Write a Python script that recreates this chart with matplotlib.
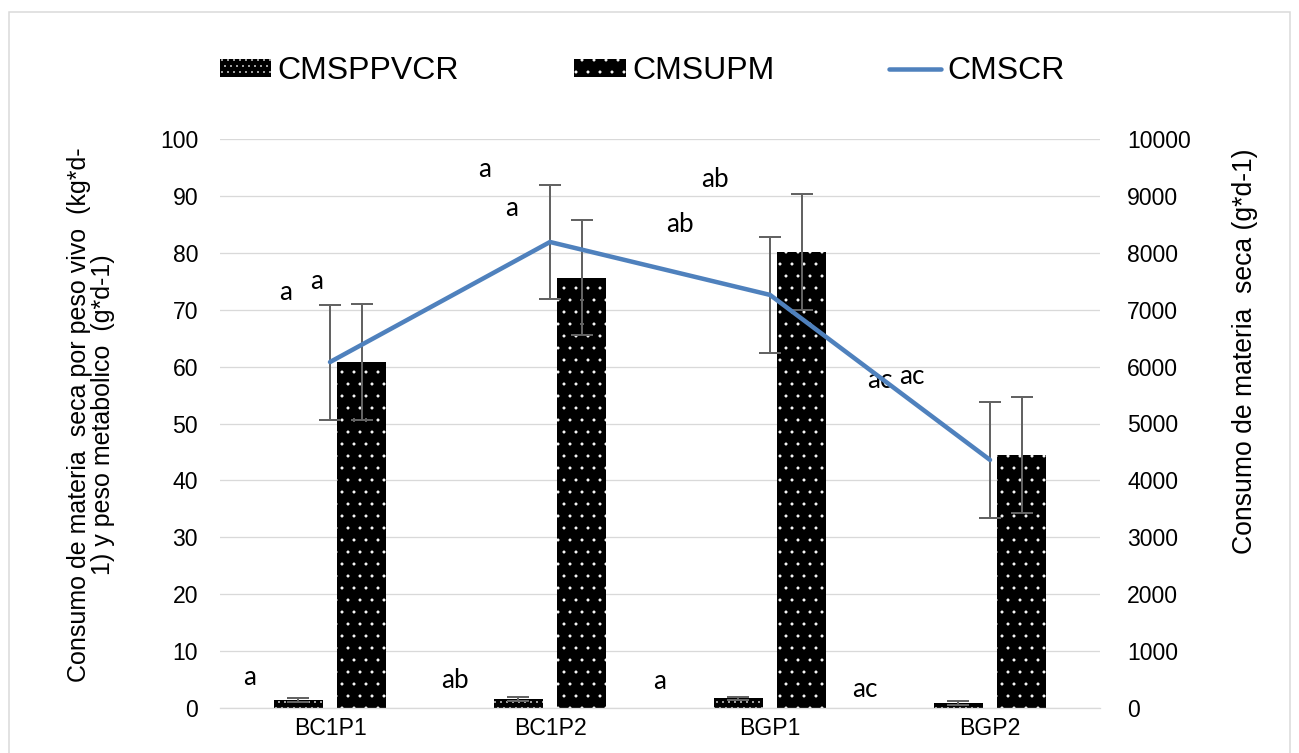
import matplotlib
matplotlib.use('Agg')
import matplotlib.pyplot as plt
import numpy as np

# datos
categorias = ['BC1P1', 'BC1P2', 'BGP1', 'BGP2']
cmsppvcr = [1.4, 1.6, 1.7, 0.9]          # eje izquierdo
cmsppvcr_err = [0.3, 0.3, 0.3, 0.3]
cmsupm = [60.8, 75.6, 80.2, 44.5]        # eje izquierdo
cmsupm_err = [10.2, 10.1, 10.2, 10.15]
cmscr = [6080, 8190, 7260, 4360]         # eje derecho
cmscr_err = [1010, 1000, 1020, 1015]

# letras de significancia (texto, x en categorias, y en eje izquierdo)
letras = ['a', 'a', 'a', 'a', 'ab', 'ab', 'ac', 'ac', 'a', 'ab', 'a', 'ac']
letras_x = [-0.2, -0.059, 0.705, 0.827, 1.59, 1.75, 2.5, 2.645, -0.364, 0.568, 1.5, 2.43]
letras_y = [73.1, 75.0, 94.6, 87.7, 84.9, 92.8, 57.5, 58.3, 5.4, 4.9, 4.6, 3.2]

plt.rcParams['font.family'] = ['Liberation Sans', 'DejaVu Sans']
plt.rcParams['hatch.color'] = 'white'
plt.rcParams['hatch.linewidth'] = 0.5

DPI = 72
fig = plt.figure(figsize=(1299 / DPI, 753 / DPI), dpi=DPI)
ax = fig.add_axes([220 / 1299, 1 - 708 / 753, 880 / 1299, 569 / 753])
ax2 = ax.twinx()

x = np.arange(len(categorias))
ancho = 0.224
desp = 0.144
gris = '#636363'

b1 = ax.bar(x - desp, cmsppvcr, ancho, color='black', edgecolor='white',
            linewidth=0, hatch='..', label='CMSPPVCR', zorder=2)
b2 = ax.bar(x + desp, cmsupm, ancho, color='black', edgecolor='white',
            linewidth=0, hatch='.', label='CMSUPM', zorder=2)
ax.errorbar(x - desp, cmsppvcr, yerr=cmsppvcr_err, fmt='none', ecolor=gris,
            elinewidth=2, capsize=11, capthick=2, zorder=3)
ax.errorbar(x + desp, cmsupm, yerr=cmsupm_err, fmt='none', ecolor=gris,
            elinewidth=2, capsize=11, capthick=2, zorder=3)

ax2.errorbar(x, cmscr, yerr=cmscr_err, fmt='none', ecolor=gris,
             elinewidth=2, capsize=11, capthick=2, zorder=2)
ln, = ax2.plot(x, cmscr, color='#4f81bd', lw=4.5, solid_capstyle='round',
               label='CMSCR', zorder=3)

ax.set_xlim(-0.5, 3.5)
ax.set_ylim(0, 100)
ax2.set_ylim(0, 10000)
ax.set_yticks(np.arange(0, 101, 10))
ax2.set_yticks(np.arange(0, 10001, 1000))
ax.set_xticks(x)
ax.set_xticklabels(categorias)

ax.grid(axis='y', color='#d9d9d9', lw=1.3, zorder=0)
ax.set_axisbelow(True)
for a in (ax, ax2):
    for s in a.spines.values():
        s.set_visible(False)
ax.spines['bottom'].set_visible(True)
ax.spines['bottom'].set_color('#d9d9d9')
ax.spines['bottom'].set_linewidth(1.3)

ax.tick_params(axis='y', length=0, pad=22, labelsize=23)
ax.tick_params(axis='x', length=0, pad=9, labelsize=23)
ax2.tick_params(axis='y', length=0, pad=27, labelsize=23)

for t, lx, ly in zip(letras, letras_x, letras_y):
    ax.text(lx, ly, t, ha='center', va='center', fontsize=26,
            family=['Lato', 'DejaVu Sans'], zorder=5)

fig.text(91 / 1299, 1 - 415 / 753,
         'Consumo de materia  seca por peso vivo  (kg*d-\n1) y peso metabolico  (g*d-1)',
         rotation=90, ha='center', va='center', multialignment='center',
         fontsize=25, linespacing=0.95)
fig.text(1245 / 1299, 1 - 351 / 753, 'Consumo de materia  seca (g*d-1)',
         rotation=90, ha='center', va='center', fontsize=26.5)

fig.legend(handles=[b1, b2, ln], loc='center left',
           bbox_to_anchor=(220 / 1299, 1 - 71 / 753), ncol=3, frameon=False,
           fontsize=32, handlelength=1.6, handleheight=0.5, handletextpad=0.2,
           columnspacing=3.6, borderpad=0, borderaxespad=0)

# borde de la figura
borde = plt.Rectangle((9 / 1299, -0.05), 1281 / 1299, 1.05 - 12 / 753,
                      transform=fig.transFigure, fill=False,
                      edgecolor='#d9d9d9', lw=1.5)
fig.patches.append(borde)

fig.savefig('out.png', dpi=DPI)
